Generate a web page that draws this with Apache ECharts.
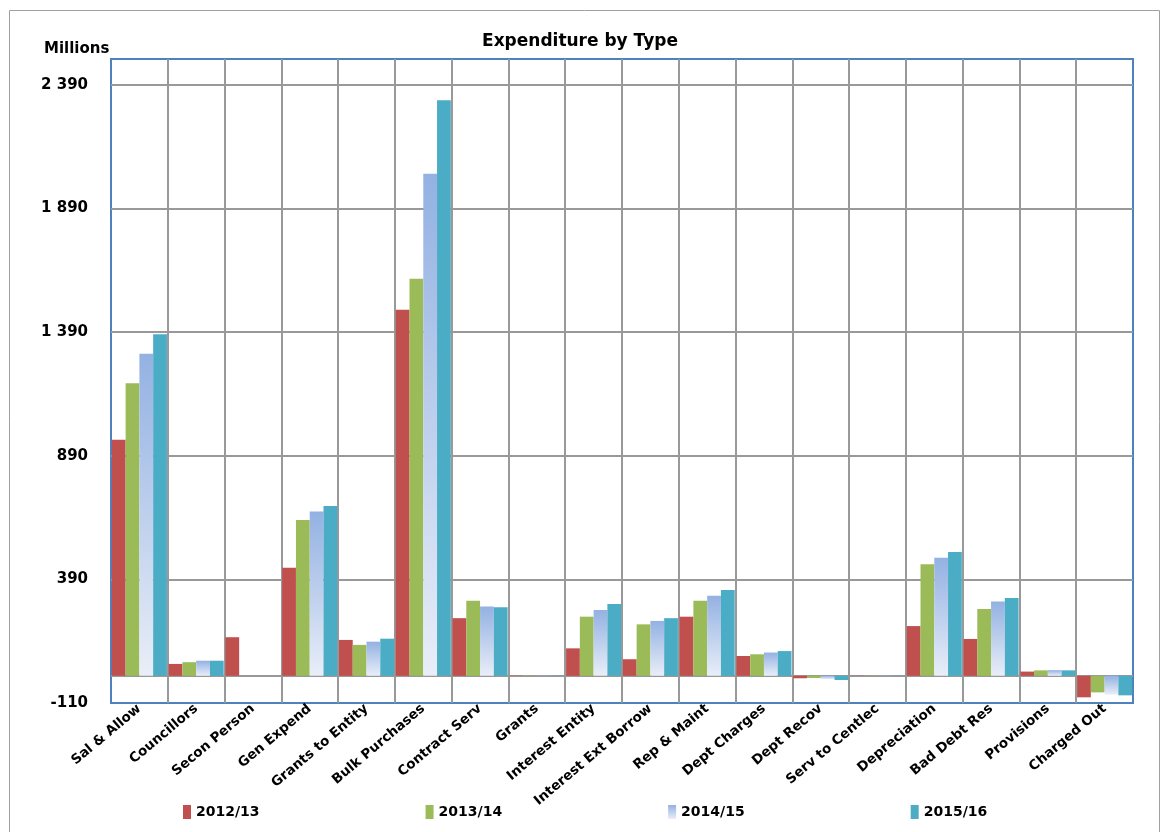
<!DOCTYPE html>
<html>
<head>
<meta charset="utf-8">
<script src="https://cdn.jsdelivr.net/npm/echarts@6/dist/echarts.min.js"></script>
<style>
html,body{margin:0;padding:0;background:#fff;}
#chart{width:1160px;height:832px;}
</style>
</head>
<body>
<div id="chart"></div>
<script>
const categories = ['Sal & Allow','Councillors','Secon Person','Gen Expend','Grants to Entity','Bulk Purchases','Contract Serv','Grants','Interest Entity','Interest Ext Borrow','Rep & Maint','Dept Charges','Dept Recov','Serv to Centlec','Depreciation','Bad Debt Res','Provisions','Charged Out'];
const seriesNames = ['2012/13','2013/14','2014/15','2015/16'];
const v2012 = [954, 48, 156, 437, 145, 1480, 233, 1, 111, 67, 239, 80, -10, 1, 201, 149, 17, -87];
const v2013 = [1183, 55, 0, 630, 125, 1605, 303, 1, 239, 208, 303, 87, -9, 1, 451, 270, 22, -67];
const v2014 = [1302, 61, 0, 664, 138, 2030, 280, 1, 266, 222, 324, 94, -13, 1, 477, 300, 23, -76];
const v2015 = [1381, 61, 0, 687, 150, 2327, 277, 1, 290, 233, 347, 100, -17, 1, 501, 315, 22, -79];
const yTickLabels = [-110, 390, 890, 1390, 1890, 2390];

const chart = echarts.init(document.getElementById('chart'));
const font = '"DejaVu Sans", Verdana, sans-serif';
function fmt(v){
  const s = String(Math.abs(v));
  const t = s.replace(/\B(?=(\d{3})+(?!\d))/g, ' ');
  return (v < 0 ? '-' : '') + t;
}
const colors = ['#c0504d', '#9bbb59',
  new echarts.graphic.LinearGradient(0,0,0,1,[{offset:0,color:'#93b1e2'},{offset:1,color:'#e9eef8'}]),
  '#4bacc6'];
const values = [v2012, v2013, v2014, v2015];

const series = seriesNames.map((n, i) => {
  const s = {
    name: n, type: 'bar', data: values[i],
    barGap: '0%', barCategoryGap: '3%',
    itemStyle: {color: colors[i]}
  };
  if (i === 0) {
    s.markLine = {
      silent: true, symbol: 'none', label: {show: false},
      lineStyle: {color: '#999', type: 'solid', width: 2},
      data: [{yAxis: 0}], z: 1
    };
  }
  return s;
});

chart.setOption({
  animation: false,
  textStyle: {fontFamily: font},
  title: [
    {text: 'Expenditure by Type', left: 'center', top: 28,
     textStyle: {fontFamily: font, fontSize: 17, fontWeight: 'bold', color: '#000'}},
    {text: 'Millions', left: 39, top: 37,
     textStyle: {fontFamily: font, fontSize: 15, fontWeight: 'bold', color: '#000'}}
  ],
  graphic: [{type: 'rect', left: 7, top: 8, shape: {width: 1150, height: 840},
    style: {fill: 'none', stroke: '#a0a0a0', lineWidth: 1}, silent: true}],
  legend: {
    data: seriesNames, left: 178, bottom: 8, itemGap: 166,
    itemWidth: 8, itemHeight: 14, icon: 'rect',
    textStyle: {fontFamily: font, fontSize: 14, fontWeight: 'bold', color: '#000'}
  },
  grid: {left: 111, right: 27, top: 59, bottom: 129, show: true,
    borderColor: '#4f81bd', borderWidth: 2, backgroundColor: 'transparent'},
  xAxis: {
    type: 'category', data: categories,
    axisLine: {show: false}, axisTick: {show: false},
    axisLabel: {rotate: 40, interval: 0, margin: 4, color: '#000',
      fontFamily: font, fontSize: 13.5, fontWeight: 'bold'},
    splitLine: {show: true, showMinLine: false, showMaxLine: false,
      lineStyle: {color: '#999', width: 2}}
  },
  yAxis: {
    type: 'value', min: -110, max: 2494, interval: 500,
    axisLine: {show: false}, axisTick: {show: false},
    axisLabel: {showMaxLabel: false, margin: 23, color: '#000', fontFamily: font, fontSize: 15, fontWeight: 'bold',
      formatter: v => yTickLabels.indexOf(v) >= 0 ? fmt(v) : ''},
    splitLine: {show: true, showMinLine: false, showMaxLine: false,
      lineStyle: {color: '#999', width: 2}}
  },
  series: series
});
</script>
</body>
</html>
